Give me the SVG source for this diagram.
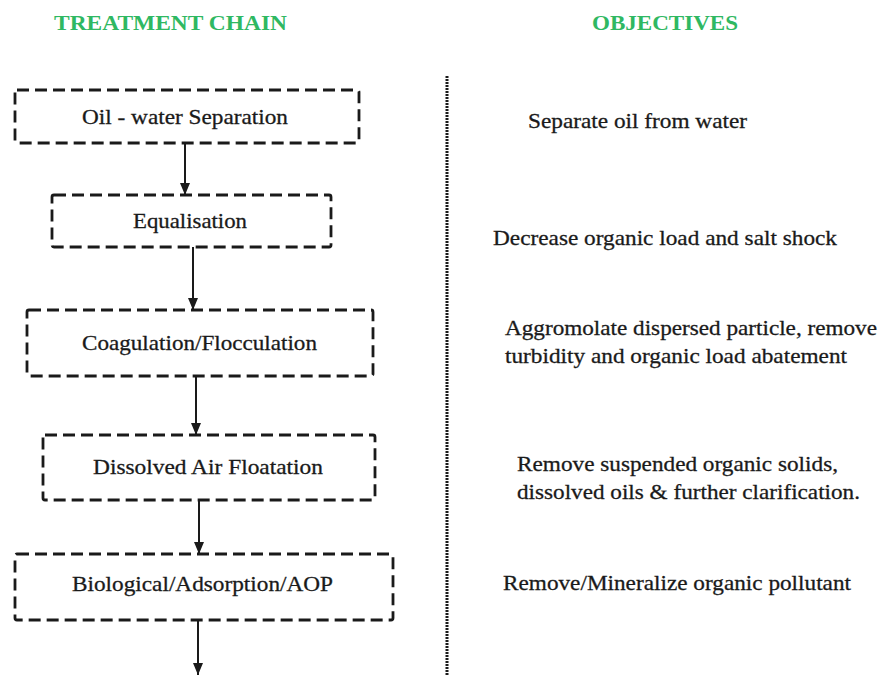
<svg xmlns="http://www.w3.org/2000/svg" width="882" height="675" viewBox="0 0 882 675">
<defs>
<style>
.hdr{font-family:"Liberation Serif","Times New Roman",serif;font-weight:bold;font-size:22px;fill:#2fb862}
.box{fill:none;stroke:#1a1a1a;stroke-width:2.8;stroke-dasharray:12 6}
.lbl{font-family:"Liberation Serif","Times New Roman",serif;font-size:22px;fill:#1a1a1a;stroke:#1a1a1a;stroke-width:0.3}
.obj{font-family:"Liberation Serif","Times New Roman",serif;font-size:22px;fill:#1a1a1a;stroke:#1a1a1a;stroke-width:0.3}
.con{stroke:#1a1a1a;stroke-width:2;fill:none;marker-end:url(#ah)}
</style>
<marker id="ah" viewBox="0 0 12 10" refX="12" refY="5" markerWidth="12" markerHeight="10" markerUnits="userSpaceOnUse" orient="auto">
<path d="M0,0 L12,5 L0,10 Z" fill="#1a1a1a"/>
</marker>
</defs>
<rect width="882" height="675" fill="#ffffff"/>
<text class="hdr" x="54" y="30" textLength="233" lengthAdjust="spacingAndGlyphs">TREATMENT CHAIN</text>
<text class="hdr" x="592" y="30" textLength="146" lengthAdjust="spacingAndGlyphs">OBJECTIVES</text>
<line x1="447" y1="76" x2="447" y2="675" stroke="#1a1a1a" stroke-width="3" stroke-dasharray="2 1"/>
<g id="connectors">
<line class="con" x1="185" y1="143" x2="185" y2="195"/>
<line class="con" x1="193" y1="247" x2="193" y2="310"/>
<line class="con" x1="196" y1="376" x2="196" y2="435"/>
<line class="con" x1="199" y1="500" x2="199" y2="554"/>
<line class="con" x1="198" y1="620" x2="198" y2="675"/>
</g>
<g id="n1">
<rect class="box" x="15" y="90" width="344" height="53" rx="2"/>
<text class="lbl" x="82" y="124" textLength="206" lengthAdjust="spacingAndGlyphs">Oil - water Separation</text>
</g>
<g id="n2">
<rect class="box" x="52" y="195" width="279" height="52" rx="2"/>
<text class="lbl" x="133" y="228" textLength="114" lengthAdjust="spacingAndGlyphs">Equalisation</text>
</g>
<g id="n3">
<rect class="box" x="27" y="310" width="346" height="66" rx="2"/>
<text class="lbl" x="82" y="350" textLength="235" lengthAdjust="spacingAndGlyphs">Coagulation/Flocculation</text>
</g>
<g id="n4">
<rect class="box" x="43" y="435" width="332" height="65" rx="2"/>
<text class="lbl" x="93" y="474" textLength="230" lengthAdjust="spacingAndGlyphs">Dissolved Air Floatation</text>
</g>
<g id="n5">
<rect class="box" x="15" y="554" width="378" height="66" rx="2"/>
<text class="lbl" x="72" y="591" textLength="261" lengthAdjust="spacingAndGlyphs">Biological/Adsorption/AOP</text>
</g>
<g id="objectives">
<text class="obj" x="528" y="128" textLength="219" lengthAdjust="spacingAndGlyphs">Separate oil from water</text>
<text class="obj" x="493" y="245" textLength="344" lengthAdjust="spacingAndGlyphs">Decrease organic load and salt shock</text>
<text class="obj" x="505" y="335" textLength="372" lengthAdjust="spacingAndGlyphs">Aggromolate dispersed particle, remove</text>
<text class="obj" x="505" y="363" textLength="342" lengthAdjust="spacingAndGlyphs">turbidity and organic load abatement</text>
<text class="obj" x="517" y="471" textLength="321" lengthAdjust="spacingAndGlyphs">Remove suspended organic solids,</text>
<text class="obj" x="517" y="499" textLength="343" lengthAdjust="spacingAndGlyphs">dissolved oils &amp; further clarification.</text>
<text class="obj" x="503" y="590" textLength="348" lengthAdjust="spacingAndGlyphs">Remove/Mineralize organic pollutant</text>
</g>
</svg>
